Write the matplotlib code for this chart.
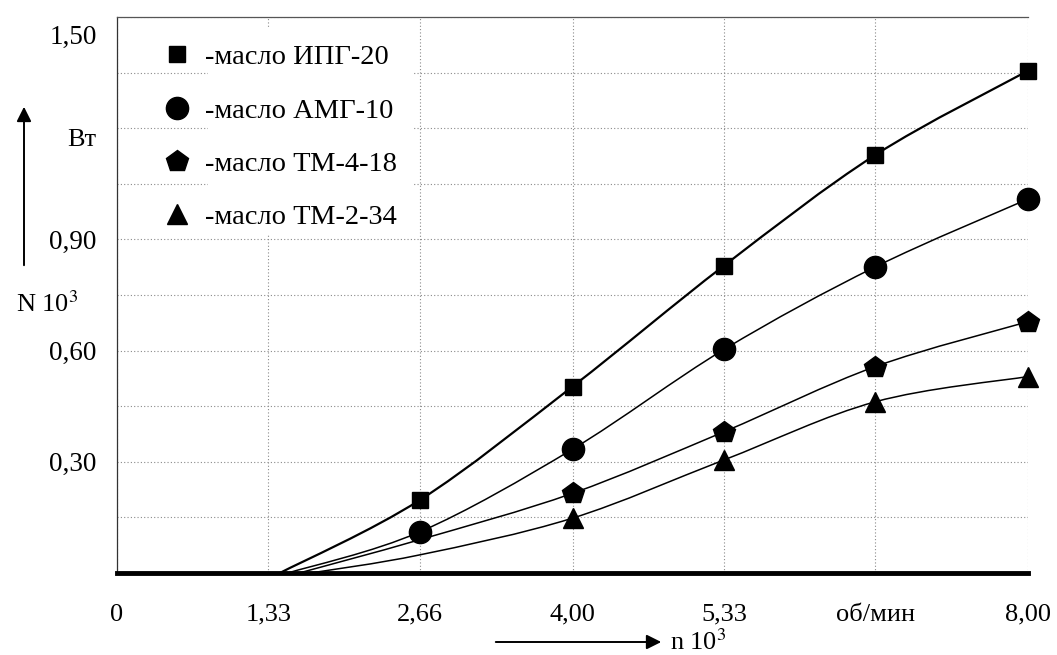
import numpy as np
import matplotlib
matplotlib.use('Agg')
import matplotlib.pyplot as plt
from matplotlib.path import Path
from matplotlib.patches import PathPatch, Rectangle
from matplotlib.lines import Line2D

plt.rcParams['font.family'] = ['Liberation Serif', 'DejaVu Serif']
plt.rcParams['mathtext.fontset'] = 'stix'

# x axis (n 10^3, об/мин) and tick labels
x_ticks = [0, 1.33, 2.66, 4.00, 5.33, 6.66, 8.00]
x_labels = ['0', '1,33', '2,66', '4,00', '5,33', 'об/мин', '8,00']
y_ticks = [0.30, 0.60, 0.90]
y_labels = ['0,30', '0,60', '0,90']

# N 10^3, Вт  -- first point of each curve is where it leaves zero
ipg_x = [1.43, 2.66, 4.00, 5.33, 6.66, 8.00]
ipg_y = [0.0, 0.197, 0.503, 0.829, 1.128, 1.355]
amg_x = [1.50, 2.66, 4.00, 5.33, 6.66, 8.00]
amg_y = [0.0, 0.111, 0.334, 0.603, 0.826, 1.009]
tm418_x = [1.60, 2.66, 4.00, 5.33, 6.66, 8.00]
tm418_y = [0.0, 0.090, 0.215, 0.381, 0.557, 0.678]
tm234_x = [1.70, 2.66, 4.00, 5.33, 6.66, 8.00]
tm234_y = [0.0, 0.049, 0.148, 0.305, 0.462, 0.530]

names = ['масло ИПГ-20', 'масло АМГ-10', 'масло ТМ-4-18', 'масло ТМ-2-34']


def smooth_path(xs, ys):
    # catmull-rom through the points, as bezier segments
    p = np.column_stack([xs, ys])
    n = len(p)
    verts = [tuple(p[0])]
    codes = [Path.MOVETO]
    for i in range(n - 1):
        p0 = p[max(i - 1, 0)]
        p1 = p[i]
        p2 = p[i + 1]
        p3 = p[min(i + 2, n - 1)]
        c1 = p1 + (p2 - p0) / 6.0
        c2 = p2 - (p3 - p1) / 6.0
        verts += [tuple(c1), tuple(c2), tuple(p2)]
        codes += [Path.CURVE4] * 3
    return Path(verts, codes)


fig = plt.figure(figsize=(10.57, 6.55), dpi=100)
ax = fig.add_axes([117 / 1057, 82 / 655, 911 / 1057, 556 / 655])
ax.set_xlim(0, 8)
ax.set_ylim(0, 1.5)

# grid
ax.set_xticks(x_ticks)
ax.set_xticklabels(x_labels, fontsize=19)
ax.set_yticks(y_ticks)
ax.set_yticklabels(y_labels, fontsize=19.5)
ax.set_yticks(np.arange(0.15, 1.5, 0.15), minor=True)
ax.tick_params(which='both', length=0)
ax.tick_params(axis='x', pad=22)
ax.tick_params(axis='y', pad=15)
ax.grid(True, which='both', color='#8a8a8a', linestyle=(0, (1, 2)), linewidth=0.8)

ax.spines['right'].set_visible(False)
ax.spines['top'].set_linestyle((0, (1, 1)))
ax.spines['top'].set_color('#555555')
ax.spines['top'].set_linewidth(0.9)
ax.spines['left'].set_linestyle((0, (1, 1)))
ax.spines['left'].set_color('#333333')
ax.spines['left'].set_linewidth(0.9)
ax.spines['bottom'].set_linewidth(3.5)
ax.spines['bottom'].set_zorder(5)

# white block behind the legend text (grid is broken there in the original)
ax.add_patch(Rectangle((0.10, 0.608), 0.225, 0.37, transform=ax.transAxes,
                       facecolor='white', edgecolor='none', zorder=2))

series = [
    (ipg_x, ipg_y, 's', 11, 1.6, 1),
    (amg_x, amg_y, 'o', 16, 1.1, 1),
    (tm418_x, tm418_y, 'p', 16, 1.1, 2),
    (tm234_x, tm234_y, '^', 14, 1.1, 2),
]
handles = []
for (xs, ys, mk, ms, lw, first), name in zip(series, names):
    ax.add_patch(PathPatch(smooth_path(xs, ys), facecolor='none',
                           edgecolor='black', linewidth=lw, zorder=3))
    ax.plot(xs[first:], ys[first:], linestyle='none', marker=mk,
            markersize=ms, color='black', zorder=4, clip_on=False)
    handles.append(Line2D([], [], linestyle='none', marker=mk,
                          markersize=ms, color='black', label='-' + name))

leg = ax.legend(handles=handles, loc='upper left', bbox_to_anchor=(0.035, 0.971),
                frameon=False, fontsize=20.5, handlelength=1.2, handletextpad=0.37,
                labelspacing=0.96, borderaxespad=0)
leg.set_zorder(6)

# top y label, sits a bit below the 1.50 line
ax.text(-0.022, 1.445, '1,50', transform=ax.get_yaxis_transform(),
        ha='right', va='center', fontsize=19.5)

# axis captions with arrows
fig.text(82 / 1057, 1 - 140 / 655, 'Вт', ha='center', va='center', fontsize=19)
fig.text(47 / 1057, 1 - 304 / 655, 'N 10$^3$', ha='center', va='center', fontsize=19)
ax.annotate('', xy=(24 / 1057, 1 - 104 / 655), xytext=(24 / 1057, 1 - 268 / 655),
            xycoords='figure fraction', textcoords='figure fraction',
            arrowprops=dict(arrowstyle='-|>', color='black', lw=1.4, mutation_scale=22))
ax.annotate('', xy=(664 / 1057, 1 - 642 / 655), xytext=(493 / 1057, 1 - 642 / 655),
            xycoords='figure fraction', textcoords='figure fraction',
            arrowprops=dict(arrowstyle='-|>', color='black', lw=1.4, mutation_scale=22))
fig.text(670 / 1057, 1 - 642 / 655, 'n 10$^3$', ha='left', va='center', fontsize=19)

fig.savefig('out.png', dpi=100, facecolor='white')
